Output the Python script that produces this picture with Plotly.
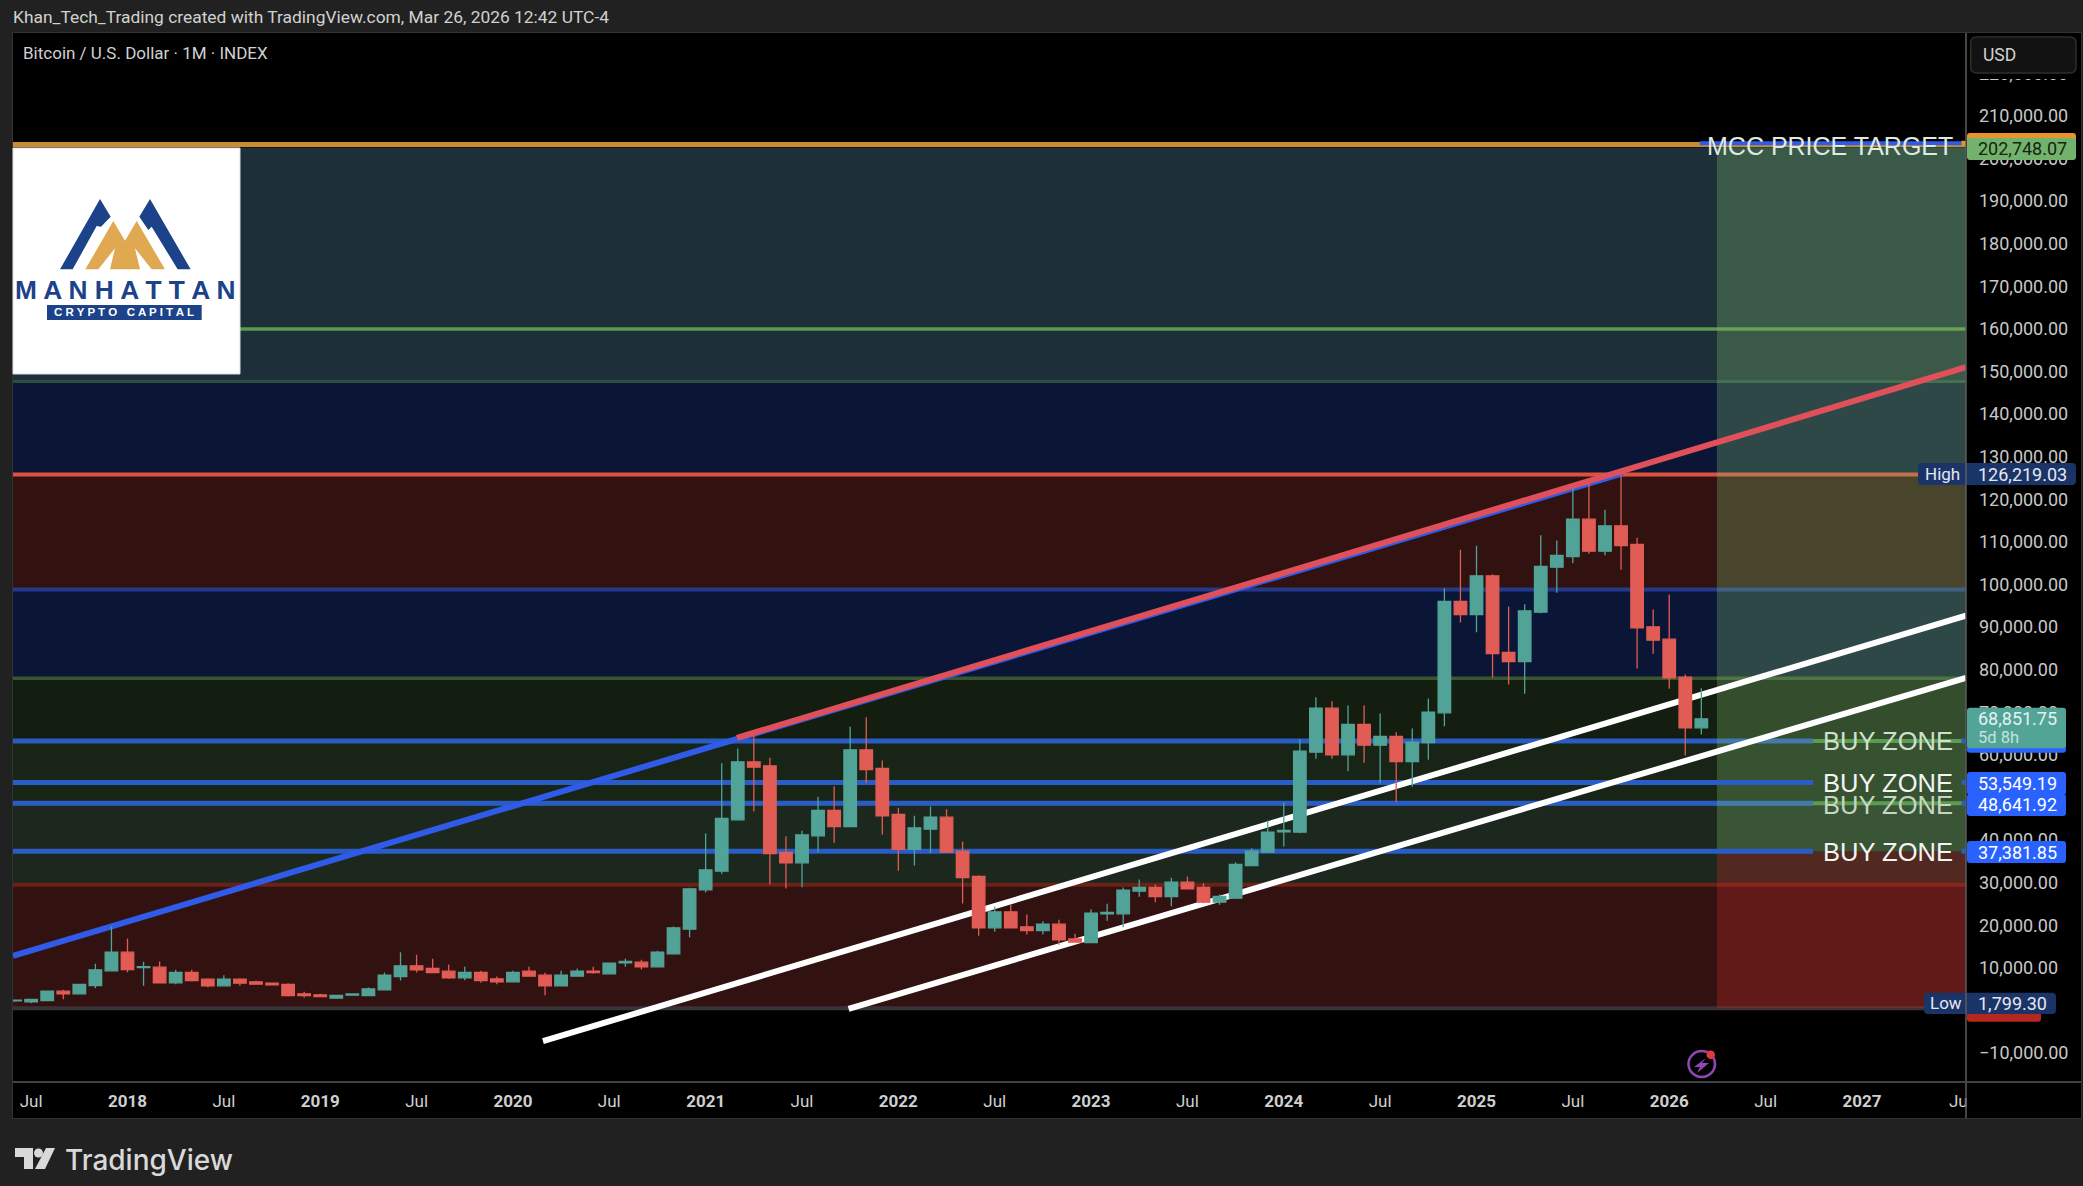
import plotly.graph_objects as go

W, H = 2083, 1186
L, R, T, B = 13, 1966, 33, 1082

# ---------- data ----------
first_month = -7  # month index, 0 = Jan 2018
opens = [2290,2040,2350,4540,3920,5870,9310,13700,10050,10170,6500,8920,7350,5790,7350,6730,6420,6100,3920,3680,2890,3600,3520,4850,7980,10490,9860,9230,7670,8920,7430,6730,9230,8290,5790,8060,9230,8610,11200,11350,10250,13300,19090,28330,32710,44760,58370,57430,37090,34660,41000,46950,43190,61190,56810,46010,37800,42570,45380,37400,31460,19410,23160,19640,18780,20270,16820,15960,22700,22690,28010,28870,26760,30130,28870,25430,26370,34040,37170,41950,41860,60640,70970,60020,67140,62290,64320,58450,62910,69880,96010,92960,102030,84040,81920,93510,104070,106570,115340,107830,113770,109390,90060,87170,78250,66350]
highs = [2500,2580,4540,4850,6100,10950,19800,16900,11420,11500,9550,9550,7590,8290,7590,6960,6550,6420,4380,3920,3520,3900,5400,8920,13690,13070,12130,10800,10250,9310,7980,9310,10250,8840,9310,9860,10250,11110,12120,11900,14000,19720,28800,41550,58060,61500,64550,59310,40920,42170,50160,52660,66590,68860,58690,47570,45690,47890,47260,39600,31770,24410,24880,22530,20970,21280,18000,23790,25040,28870,30750,29580,31150,31460,29890,27230,34820,38100,44600,48830,63690,73550,72600,71600,71600,69720,65340,66200,73240,99140,108140,109080,102430,94840,95380,111580,110330,122850,123940,117530,126219,110950,94130,97650,78870,75650]
lows = [2040,1710,2350,2660,3920,5240,9310,8990,5790,6500,6180,6810,5480,5790,5790,6020,5870,3290,2980,3290,2890,3600,3520,4850,7040,8920,8920,7430,7120,6500,6180,6730,8060,3600,5790,7980,8610,8610,10250,9620,10250,13070,17210,27700,32080,44760,46710,29580,28640,28950,37170,39360,43190,53370,41310,32790,34040,36930,37170,25120,17530,18470,19410,17840,17840,15410,16040,15960,21050,19560,26680,25430,24490,28560,25190,24800,26370,34040,37170,38500,41620,59070,59070,56180,58140,53370,48900,52500,58840,66740,91080,88810,78170,76530,74330,93270,98040,105010,107200,106880,103440,80280,83720,75510,59860,64800]
closes = [2420,2580,4540,3920,6100,9550,13700,9620,10300,6500,8920,7040,5790,7350,6420,6180,6020,3520,3520,3290,3520,3900,5090,8290,10490,9550,8920,7670,8920,7040,6730,8920,8060,5790,8290,9230,8920,11110,11500,10250,13700,19410,28560,33020,45070,58370,57120,36850,34660,41240,46950,43190,61190,56570,45700,37800,42880,45380,37170,31220,19410,23160,19410,18780,20270,16590,16040,22850,23000,28250,28870,26760,30130,28560,25430,26760,34270,37400,41860,42250,60880,70970,60020,67140,62290,64320,58450,62990,70030,96010,92960,102030,83800,81920,93820,104230,106810,115340,107830,113770,109150,89830,86930,78090,66350,68470]
months = [first_month + k for k in range(len(opens))]

target_price = 202748.07
high_price = 126219.03
low_price = 1799.30
last_price = 68851.75
buy_levels = [63260, 53549.19, 48641.92, 37381.85]
zone_edges = [203300, 160000, 147650, 125800, 98800, 78000, 29500, 500]

# trendline end points: month index, price
blue_trend = ([-7.13, 93.1], [12800, 126100])
red_trend = ([37.95, 114.48], [64000, 151000])
white_a = ([25.87, 114.48], [-7200, 92700])
white_b = ([44.9, 114.48], [400, 78100])

month_ticks = list(range(-6, 115, 6))
month_labels = []
for m in month_ticks:
    if m % 12 == 0:
        month_labels.append("<b>%d</b>" % (2018 + m // 12))
    else:
        month_labels.append("Jul")
month_labels[-1] = "Ju"
price_ticks = list(range(-10000, 220001, 10000))
price_labels = [("−" if p < 0 else "") + f"{abs(p):,.2f}" for p in price_ticks]

BG = "#212121"
UP = "#52a397"
DOWN = "#e05c55"


def fx(px):
    return (px - L) / (R - L)


def fy(py):
    return (B - py) / (B - T)


def poly(points, fill, line=None, layer="above", width=0):
    d = "M " + " L ".join(f"{fx(x):.5f} {fy(y):.5f}" for x, y in points) + " Z"
    return dict(type="path", xref="paper", yref="paper", path=d, fillcolor=fill,
                line=dict(color=line or fill, width=width), layer=layer)


def rect(x0, y0, x1, y1, fill, line=None, layer="above", width=0):
    return dict(type="rect", xref="paper", yref="paper", x0=fx(x0), x1=fx(x1), y0=fy(y1), y1=fy(y0),
                fillcolor=fill, line=dict(color=line or fill, width=width), layer=layer)


def rrect(x0, y0, x1, y1, fill, r=4, line=None, width=0):
    a = [("M", x0 + r, y0), ("L", x1 - r, y0), ("Q", x1, y0, x1, y0 + r), ("L", x1, y1 - r),
         ("Q", x1, y1, x1 - r, y1), ("L", x0 + r, y1), ("Q", x0, y1, x0, y1 - r), ("L", x0, y0 + r),
         ("Q", x0, y0, x0 + r, y0)]
    d = ""
    for seg in a:
        c = seg[1:]
        d += seg[0] + " " + " ".join(f"{fx(c[i]):.5f} {fy(c[i+1]):.5f}" for i in range(0, len(c), 2)) + " "
    return dict(type="path", xref="paper", yref="paper", path=d + "Z", fillcolor=fill,
                line=dict(color=line or fill, width=width), layer="above")


def band(v0, v1, fill):
    return dict(type="rect", xref="paper", yref="y", x0=0, x1=1, y0=v0, y1=v1, fillcolor=fill,
                line=dict(width=0), layer="below")


def hline(v, color, width, x0=-7.13, x1=114.48):
    return dict(type="line", xref="x", yref="y", x0=x0, x1=x1, y0=v, y1=v,
                line=dict(color=color, width=width), layer="below")


def trend(t, color, width):
    return dict(type="line", xref="x", yref="y", x0=t[0][0], x1=t[0][1], y0=t[1][0], y1=t[1][1],
                line=dict(color=color, width=width), layer="below")


def text(px, py, s, color="#d1d1d1", size=15, family="Roboto", anchor="left", weight=None):
    f = dict(color=color, size=size, family=family)
    if weight:
        f["weight"] = weight
    return dict(xref="paper", yref="paper", x=fx(px), y=fy(py), text=s, showarrow=False, xanchor=anchor,
                yanchor="middle", xshift=0, font=f, borderpad=0, borderwidth=0)


shapes = []
# axis strips
shapes += [rect(R, T, 2081, 1118, "#000000", layer="below"), rect(L, B, 2081, 1118, "#000000", layer="below")]
# zones
e = zone_edges
shapes += [band(e[0] - 700, e[2], "#1d2f38"), band(e[2], e[3], "#0b1636"), band(e[3], e[4], "#311210"),
           band(e[4], e[5], "#0b1636"), band(e[5], buy_levels[0], "#131e10"),
           band(buy_levels[0], buy_levels[2], "#172416"), band(buy_levels[2], e[6], "#1c281d"),
           band(e[6], e[7], "#321211")]
shapes += [hline(e[1], "#5a9a4a", 3.5), hline(e[2], "#2d4d42", 3), hline(e[3], "#e0503f", 4),
           hline(e[4], "#24398a", 4), hline(e[5], "#38572e", 3.5), hline(e[6], "#6a2218", 4),
           hline(e[7], "#3a3238", 4), hline(e[0], "#c98c35", 5)]
shapes += [hline(buy_levels[0], "#4d8f45", 4), hline(buy_levels[2], "#4d8f45", 4)]
shapes += [hline(buy_levels[0], "#2a5cc6", 5, x1=104.96), hline(buy_levels[2], "#2a5cc6", 5, x1=104.96)]
# long-position tool
shapes += [dict(type="rect", xref="x", yref="y", x0=98.97, x1=114.48, y0=37381.85, y1=target_price,
                fillcolor="rgba(129,190,113,0.3)", line=dict(width=0), layer="below"),
           dict(type="rect", xref="x", yref="y", x0=98.97, x1=114.48, y0=e[7], y1=37381.85,
                fillcolor="rgba(207,45,40,0.3)", line=dict(width=0), layer="below")]
shapes += [hline(buy_levels[1], "#2a5cc6", 5, x1=104.96), hline(buy_levels[3], "#2a5cc6", 5, x1=104.96)]
shapes += [hline(203570, "#2f5be8", 4, x0=97.9)]
for v in buy_levels:
    shapes.append(hline(v, "#2a5cc6", 5, x0=114.2))
shapes.append(hline(203570, "#e6942e", 5, x0=114.2))
shapes += [trend(blue_trend, "#2f5be8", 6), trend(red_trend, "#e0505a", 6),
           trend(white_a, "#ffffff", 6), trend(white_b, "#ffffff", 6)]
# borders
shapes += [dict(type="line", xref="paper", yref="paper", x0=1, x1=1, y0=fy(1118), y1=1,
                line=dict(color="#5c5c5c", width=1.5), layer="above"),
           rect(L, B - 1, 2081, B + 1, "#434343"),
           rect(L - 1, T - 1, 2081, T, "#333333"), rect(2081, T - 1, 2082, 1118, "#333333"),
           rect(L - 1, 1118, 2082, 1119, "#333333"), rect(L - 1, T - 1, L, 1119, "#333333")]
# logo
shapes += [rect(13, 148, 240, 374, "#ffffff", line="#dddddd", width=1)]
navy = "#1c4289"
gold = "#e0a951"
s3 = lambda pts: [(x / 3, y / 3) for x, y in pts]
shapes += [poly(s3([(180, 808), (300, 597), (332, 650), (303, 680), (290, 678), (218, 808)]), navy),
           poly(s3([(572, 808), (450, 597), (418, 650), (445, 690), (455, 680), (533, 808)]), navy),
           poly(s3([(256, 808), (340, 663), (375, 722), (410, 663), (495, 808), (455, 808), (405, 745), (420, 808),
                    (330, 808), (345, 745), (295, 808)]), gold),
           rect(47, 305, 201.7, 320, navy)]
# chips
shapes += [rect(1967, 34, 2081, 79, "#000000")]
shapes += [rrect(1967, 133, 2076, 156, "#e6942e", r=3), rrect(1967, 138, 2076, 160, "#72b26d", r=3)]
shapes += [rrect(1967, 730, 2066, 752.7, "#2962ff", r=3), rrect(1967, 707.7, 2066, 748.3, "#52a497", r=3)]
shapes += [rrect(1967, 772, 2066, 795, "#2962ff", r=3), rrect(1967, 794, 2066, 816, "#2962ff", r=3),
           rrect(1967, 841, 2066, 863, "#2962ff", r=3)]
shapes += [rrect(1967, 1000, 2041, 1021.7, "#b5271f", r=3), rrect(1924, 992.7, 2056, 1014, "#1b3468", r=4),
           rrect(1918, 463, 2076, 485, "#1b3468", r=4)]
shapes += [dict(type="line", xref="paper", yref="paper", x0=1, x1=1, y0=fy(485), y1=fy(463),
                line=dict(color="#5c5c5c", width=1.5), layer="above"),
           dict(type="line", xref="paper", yref="paper", x0=1, x1=1, y0=fy(1014), y1=fy(992.7),
                line=dict(color="#5c5c5c", width=1.5), layer="above")]
shapes += [rrect(1970.7, 37, 2076, 73, "#121212", r=6, line="#2e2e2e", width=1.5)]
# lightning icon
shapes += [dict(type="circle", xref="paper", yref="paper", x0=fx(1688.5), x1=fx(1715), y0=fy(1077), y1=fy(1051),
                line=dict(color="#9247b4", width=2.5), fillcolor="rgba(0,0,0,0)", layer="above"),
           poly([(1706, 1058), (1694, 1067), (1700, 1067), (1697, 1073), (1709, 1063), (1702, 1063)], "#9247b4"),
           dict(type="circle", xref="paper", yref="paper", x0=fx(1706.5), x1=fx(1715), y0=fy(1059), y1=fy(1050.5),
                line=dict(width=0), fillcolor="#e0393e", layer="above")]
# TradingView glyph
shapes += [poly([(15, 1148), (33, 1148), (33, 1169), (24, 1169), (24, 1157), (15, 1157)], "#d9d9d9"),
           dict(type="circle", xref="paper", yref="paper", x0=fx(34), x1=fx(43), y0=fy(1157.5), y1=fy(1148.5),
                line=dict(width=0), fillcolor="#d9d9d9", layer="above"),
           poly([(46, 1148), (55, 1148), (45, 1169), (35, 1169)], "#d9d9d9")]

ann = [
    text(13, 17, "Khan_Tech_Trading created with TradingView.com, Mar 26, 2026 12:42 UTC-4", size=17.4),
    text(23, 53, "Bitcoin / U.S. Dollar · 1M · INDEX", size=17),
    text(1707, 146, "MCC PRICE TARGET", color="#dfe9df", size=25, family="Liberation Sans"),
    text(1823, 741, "BUY ZONE", color="#d0e0cd", size=25.5, family="Liberation Sans"),
    text(1823, 783, "BUY ZONE", color="#f4f4f4", size=25.5, family="Liberation Sans"),
    text(1823, 805, "BUY ZONE", color="#c4d8c1", size=25.5, family="Liberation Sans"),
    text(1823, 852, "BUY ZONE", color="#f4f4f4", size=25.5, family="Liberation Sans"),
    text(1983, 55, "USD", color="#d1d1d1", size=17.5),
    text(1978, 148, f"{target_price:,.2f}", color="#14260f", size=18),
    text(1978, 718, f"{last_price:,.2f}", color="#e3f3ef", size=18),
    text(1978, 737, "5d 8h", color="#c3e3dc", size=16.5),
    text(1978, 783, f"{buy_levels[1]:,.2f}", color="#ffffff", size=18),
    text(1978, 804, f"{buy_levels[2]:,.2f}", color="#ffffff", size=18),
    text(1978, 852, f"{buy_levels[3]:,.2f}", color="#ffffff", size=18),
    text(1978, 474, f"{high_price:,.2f}", color="#e4e8f2", size=18),
    text(1925, 474, "High", color="#e4e8f2", size=17),
    text(1978, 1003, f"{low_price:,.2f}", color="#e4e8f2", size=18),
    text(1930, 1003, "Low", color="#e4e8f2", size=17),
    text(125, 289.5, "<b>M A N H A T T A N</b>", color=navy, size=26.3, family="Liberation Sans", anchor="center"),
    text(124, 312.5, "<b>C R Y P T O   C A P I T A L</b>", color="#ffffff", size=11.5, family="Liberation Sans", anchor="center"),
    text(65, 1160, "TradingView", color="#d9d9d9", size=28, family="Inter", weight=500),
]

fig = go.Figure(go.Candlestick(
    x=months, open=opens, high=highs, low=lows, close=closes,
    increasing=dict(line=dict(color=UP, width=1.3), fillcolor=UP),
    decreasing=dict(line=dict(color=DOWN, width=1.3), fillcolor=DOWN),
    whiskerwidth=0, hoverinfo="skip", showlegend=False))

fig.update_layout(
    width=W, height=H, autosize=False,
    margin=dict(l=L, r=W - R, t=T, b=H - B, pad=0),
    paper_bgcolor=BG, plot_bgcolor="#000000",
    boxgap=0.22, boxgroupgap=0,
    showlegend=False, shapes=shapes, annotations=ann, hovermode=False,
    xaxis=dict(range=[-7.13, 114.48], rangeslider=dict(visible=False), tickmode="array", tickvals=month_ticks,
               ticktext=month_labels, showgrid=False, zeroline=False, ticks="", showline=False,
               tickangle=0, tickfont=dict(family="Roboto", size=17, color="#cfcfcf"), ticklabelstandoff=7),
    yaxis=dict(range=[-16784, 229460], side="right", tickmode="array", tickvals=price_ticks, ticktext=price_labels,
               showgrid=False, zeroline=False, ticks="", showline=False,
               tickfont=dict(family="Roboto", size=18, color="#c8c8c8"), ticklabelstandoff=12),
)

fig.write_html("out.html", config={"displayModeBar": False},
               post_script="document.body.style.margin='0';document.body.style.background='#212121';document.body.style.overflow='hidden';")
